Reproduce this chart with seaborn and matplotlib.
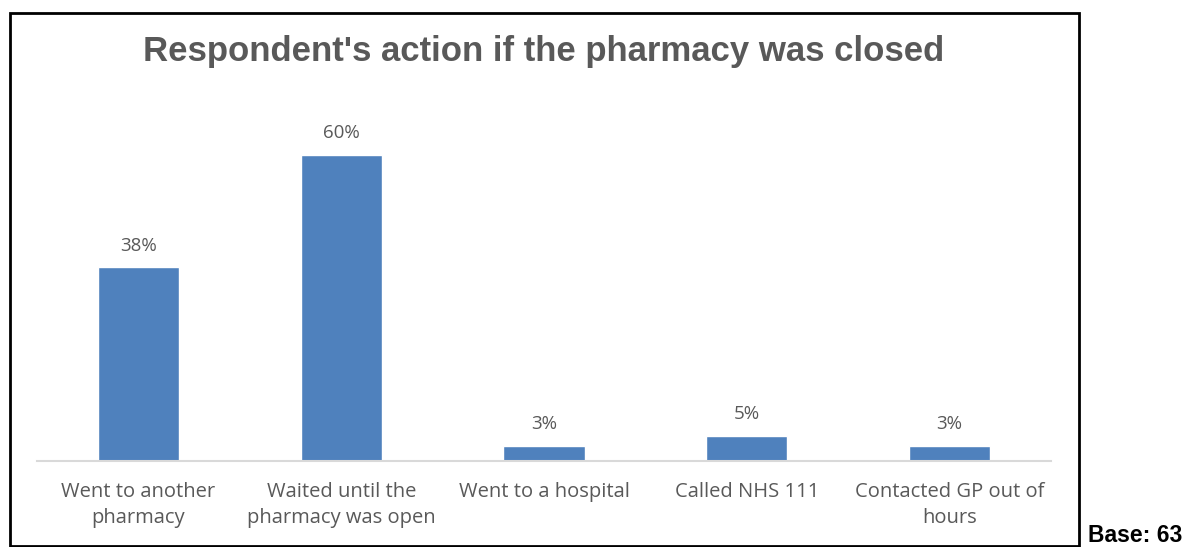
import numpy as np
import pandas as pd
import matplotlib
matplotlib.use("Agg")
import matplotlib.pyplot as plt
import seaborn as sns
from matplotlib.patches import Rectangle

# ── Data ─────────────────────────────────────────────────────────────────────
categories = ["Went to another\npharmacy", "Waited until the\npharmacy was open",
              "Went to a hospital", "Called NHS 111", "Contacted GP out of\nhours"]
values = [38, 60, 3, 5, 3]
value_labels = ["38%", "60%", "3%", "5%", "3%"]

TITLE = "Respondent's action if the pharmacy was closed"
BAR_COLOR = "#4F81BD"
TEXT_GRAY = "#595959"

W, H = 1201, 547

sns.set_style("white")
plt.rcParams["font.family"] = ["Liberation Sans", "DejaVu Sans"]

df = pd.DataFrame({"category": categories, "value": values})

fig = plt.figure(figsize=(W / 100, H / 100), dpi=100)
fig.patch.set_facecolor("white")

# axes placed in pixel terms: baseline y=461, x from 37 to 1051
ax_left, ax_right, ax_bottom, ax_top = 37, 1051, 461, 104
ax = fig.add_axes([ax_left / W, (H - ax_bottom) / H,
                   (ax_right - ax_left) / W, (ax_bottom - ax_top) / H])

sns.barplot(data=df, x="category", y="value", color=BAR_COLOR,
            width=0.40, saturation=1, ax=ax)
ax.set_ylim(0, 70)
ax.set_xlim(-0.5, len(categories) - 0.5)

for i, (v, lab) in enumerate(zip(values, value_labels)):
    ax.annotate(lab, (i, v), xytext=(0, 9), textcoords="offset points",
                ha="center", va="bottom", fontsize=13.5, color=TEXT_GRAY,
                family=["Open Sans", "DejaVu Sans"])

ax.set_yticks([])
ax.set_xlabel("")
ax.set_ylabel("")
for s in ["top", "left", "right"]:
    ax.spines[s].set_visible(False)
ax.spines["bottom"].set_color("#D9D9D9")
ax.spines["bottom"].set_linewidth(1.5)
ax.tick_params(axis="x", length=0, pad=15)
for t in ax.get_xticklabels():
    t.set_fontsize(14.5)
    t.set_color(TEXT_GRAY)
    t.set_family(["Open Sans", "DejaVu Sans"])
    t.set_linespacing(1.4)

fig.text(544 / W, 1 - 52 / H, TITLE, ha="center", va="center",
         fontsize=25, fontweight="bold", color=TEXT_GRAY)

# outer frame
fig.patches.append(Rectangle((10 / W, 1 / H), (1079 - 10) / W, (H - 13 - 1) / H,
                             transform=fig.transFigure, fill=False,
                             edgecolor="black", linewidth=2))

fig.text(1088 / W, 1 - 536 / H, "Base: 63", ha="left", va="center",
         fontsize=16.5, fontweight="bold", color="black")

fig.savefig("out.png", dpi=100, facecolor="white")
